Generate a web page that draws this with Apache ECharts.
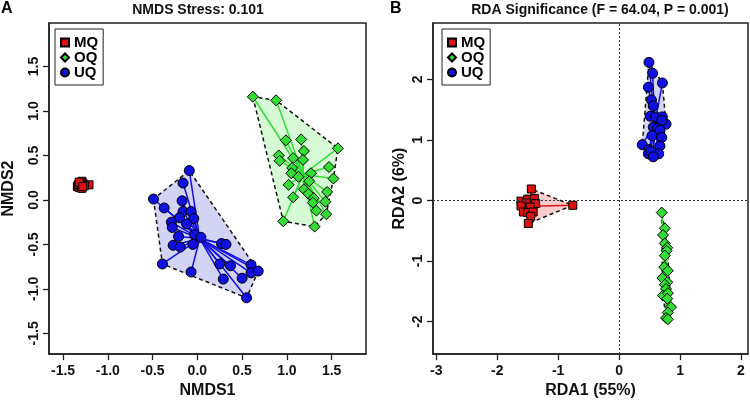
<!DOCTYPE html>
<html>
<head>
<meta charset="utf-8">
<script src="https://cdn.jsdelivr.net/npm/echarts@6/dist/echarts.min.js"></script>
<style>
  html, body { margin: 0; padding: 0; background: #fff; }
  #main { width: 750px; height: 404px; }
</style>
</head>
<body>
<div id="main"></div>
<script>
var groups = ['MQ', 'OQ', 'UQ'];

// panel A - NMDS scores
var nmdsMQ = [
  [-1.34, 0.15], [-1.32, 0.14], [-1.30, 0.17], [-1.29, 0.21], [-1.28, 0.19],
  [-1.27, 0.17], [-1.31, 0.19], [-1.33, 0.17], [-1.30, 0.15], [-1.21, 0.17],
  [-1.26, 0.16], [-1.29, 0.13], [-1.32, 0.20], [-1.28, 0.15]
];
var nmdsOQ = [
  [0.62, 1.16], [0.88, 1.12], [1.57, 0.58], [0.99, 0.67], [1.16, 0.68],
  [1.19, 0.55], [0.91, 0.50], [0.92, 0.44], [1.07, 0.47], [1.18, 0.45],
  [1.06, 0.36], [1.47, 0.37], [1.05, 0.30], [1.13, 0.26], [1.27, 0.30],
  [1.52, 0.24], [1.02, 0.17], [1.25, 0.21], [1.19, 0.12], [1.45, 0.09],
  [1.07, 0.03], [1.24, 0.07], [1.30, 0.02], [1.43, -0.02], [1.29, -0.03],
  [1.33, -0.12], [1.44, -0.16], [0.96, -0.24], [1.31, -0.30]
];
var nmdsUQ = [
  [-0.09, 0.33], [-0.16, 0.19], [-0.49, 0.01], [-0.37, -0.09], [-0.17, -0.01],
  [-0.16, -0.13], [-0.07, -0.13], [-0.20, -0.20], [-0.04, -0.21], [-0.29, -0.25],
  [-0.28, -0.31], [-0.12, -0.27], [-0.03, -0.39], [0.04, -0.42], [-0.21, -0.41],
  [-0.27, -0.51], [-0.19, -0.53], [-0.05, -0.50], [0.27, -0.49], [0.32, -0.50],
  [-0.39, -0.72], [-0.07, -0.81], [0.25, -0.72], [0.37, -0.74], [0.29, -0.89],
  [0.50, -0.88], [0.60, -0.73], [0.60, -0.82], [0.68, -0.80], [0.55, -1.10]
];

// panel B - RDA scores
var rdaMQ = [
  [-1.44, 0.19], [-1.61, -0.01], [-1.50, 0.02], [-1.39, 0.03], [-1.37, -0.05],
  [-1.53, -0.04], [-1.61, -0.09], [-1.46, -0.11], [-1.57, -0.19], [-1.50, -0.20],
  [-1.41, -0.19], [-1.45, -0.26], [-1.49, -0.38], [-0.76, -0.08]
];
var rdaOQ = [
  [0.70, -0.20], [0.75, -0.46], [0.72, -0.57], [0.75, -0.71], [0.79, -0.78],
  [0.78, -0.83], [0.75, -0.91], [0.74, -1.10], [0.80, -1.16], [0.71, -1.28],
  [0.79, -1.35], [0.75, -1.39], [0.77, -1.46], [0.72, -1.57], [0.80, -1.53],
  [0.79, -1.62], [0.85, -1.76], [0.80, -1.85], [0.77, -1.94], [0.80, -1.96]
];
var rdaUQ = [
  [0.49, 2.28], [0.55, 2.10], [0.71, 1.94], [0.48, 1.87], [0.53, 1.66],
  [0.56, 1.56], [0.51, 1.39], [0.60, 1.38], [0.71, 1.38], [0.77, 1.26],
  [0.70, 1.32], [0.56, 1.21], [0.63, 1.19], [0.67, 1.16], [0.54, 1.07],
  [0.70, 1.04], [0.38, 0.92], [0.49, 0.84], [0.67, 0.90], [0.56, 0.75],
  [0.65, 0.77], [0.48, 0.77], [0.52, 0.81], [0.56, 0.72]
];

var nmdsTicks = [-1.5, -1.0, -0.5, 0.0, 0.5, 1.0, 1.5];
var rdaXTicks = [-3, -2, -1, 0, 1, 2];
var rdaYTicks = [-2, -1, 0, 1, 2];

var colors = { MQ: '#dd1111', OQ: '#33dd33', UQ: '#1010e0' };
var fills = { MQ: 'rgba(240,110,110,0.35)', OQ: 'rgba(120,235,120,0.3)', UQ: 'rgba(110,110,225,0.3)' };
var shapes = { MQ: 'rect', OQ: 'diamond', UQ: 'circle' };
var sizes = { MQ: 8, OQ: 11, UQ: 10 };
var font = '"Liberation Sans", Arial, Helvetica, sans-serif';

// convex hull (monotone chain)
function convexHull(pts) {
  var p = pts.slice().sort(function (a, b) { return a[0] - b[0] || a[1] - b[1]; });
  function cross(o, a, b) { return (a[0] - o[0]) * (b[1] - o[1]) - (a[1] - o[1]) * (b[0] - o[0]); }
  var lower = [], upper = [];
  p.forEach(function (q) {
    while (lower.length >= 2 && cross(lower[lower.length - 2], lower[lower.length - 1], q) <= 0) lower.pop();
    lower.push(q);
  });
  for (var i = p.length - 1; i >= 0; i--) {
    var q = p[i];
    while (upper.length >= 2 && cross(upper[upper.length - 2], upper[upper.length - 1], q) <= 0) upper.pop();
    upper.push(q);
  }
  upper.pop(); lower.pop();
  return lower.concat(upper);
}

function centroid(pts) {
  var sx = 0, sy = 0;
  pts.forEach(function (p) { sx += p[0]; sy += p[1]; });
  return [sx / pts.length, sy / pts.length];
}

function panelSeries(idx, data) {
  var out = [];
  groups.forEach(function (g) {
    var pts = data[g];
    var hull = convexHull(pts);
    var cen = centroid(pts);
    out.push({
      type: 'custom', name: g + '-hull' + idx, xAxisIndex: idx, yAxisIndex: idx, z: 1,
      silent: true, data: hull,
      renderItem: function (params, api) {
        if (params.dataIndex !== 0) return;
        return {
          type: 'polygon',
          shape: { points: hull.map(function (p) { return api.coord(p); }) },
          style: { fill: fills[g], stroke: '#111', lineWidth: 1.5, lineDash: [4, 3] }
        };
      }
    });
    out.push({
      type: 'custom', name: g + '-spider' + idx, xAxisIndex: idx, yAxisIndex: idx, z: 2,
      silent: true, data: pts,
      renderItem: function (params, api) {
        var c = api.coord(cen);
        var p = api.coord([api.value(0), api.value(1)]);
        return {
          type: 'line',
          shape: { x1: c[0], y1: c[1], x2: p[0], y2: p[1] },
          style: { stroke: colors[g], lineWidth: 1.5 }
        };
      }
    });
  });
  groups.forEach(function (g) {
    out.push({
      type: 'scatter', name: g, xAxisIndex: idx, yAxisIndex: idx, z: 3,
      symbol: shapes[g], symbolSize: sizes[g], data: data[g],
      itemStyle: { color: colors[g], borderColor: '#000', borderWidth: 1, opacity: 1 }
    });
  });
  return out;
}

function valueAxis(opt) {
  return Object.assign({
    type: 'value',
    splitLine: { show: false },
    axisLine: { show: true, onZero: false, lineStyle: { color: '#222', width: 1.5 } },
    nameTextStyle: { fontFamily: font, fontWeight: 'bold', fontSize: 16, color: '#111' },
    nameLocation: 'middle'
  }, opt);
}

function ticksOf(vals, fmt) {
  return {
    tick: { show: true, inside: false, length: 6, lineStyle: { color: '#222', width: 1.3 }, customValues: vals },
    label: { fontFamily: font, fontWeight: 'bold', fontSize: 14, color: '#111', customValues: vals, formatter: fmt }
  };
}

var fmt1 = function (v) { return v.toFixed(1); };
var fmt0 = function (v) { return String(Math.round(v)); };
var ax = ticksOf(nmdsTicks, fmt1);
var bx = ticksOf(rdaXTicks, fmt0);
var by = ticksOf(rdaYTicks, fmt0);

var chart = echarts.init(document.getElementById('main'), null, { renderer: 'canvas' });

var legendBase = {
  orient: 'vertical', top: 29, itemWidth: 8, itemHeight: 8, itemGap: 0,
  padding: [6, 5, 5, 5], borderColor: '#222', borderWidth: 1, selectedMode: false,
  textStyle: { fontFamily: font, fontWeight: 'bold', fontSize: 15, color: '#000', lineHeight: 14 },
  data: groups.map(function (g) { return { name: g, icon: shapes[g] }; })
};

var series = panelSeries(0, { MQ: nmdsMQ, OQ: nmdsOQ, UQ: nmdsUQ })
  .concat(panelSeries(1, { MQ: rdaMQ, OQ: rdaOQ, UQ: rdaUQ }));

series.push({
  type: 'scatter', name: 'ref', xAxisIndex: 1, yAxisIndex: 1, z: 0, data: [],
  markLine: {
    silent: true, symbol: 'none', label: { show: false },
    lineStyle: { type: [2, 2], color: '#333', width: 1 },
    data: [{ xAxis: 0 }, { yAxis: 0 }]
  }
});

var option = {
  animation: false,
  backgroundColor: '#fff',
  grid: [
    { left: 49, top: 23, width: 317, height: 334, show: true, borderColor: '#222', borderWidth: 1.5 },
    { left: 433, top: 23, width: 315, height: 333, show: true, borderColor: '#222', borderWidth: 1.5 }
  ],
  xAxis: [
    valueAxis({ gridIndex: 0, min: -1.657, max: 1.884, name: 'NMDS1', nameGap: 26, axisTick: ax.tick, axisLabel: Object.assign({ margin: 10 }, ax.label) }),
    valueAxis({ gridIndex: 1, min: -3.054, max: 2.115, name: 'RDA1 (55%)', nameGap: 26, axisTick: bx.tick, axisLabel: Object.assign({ margin: 10 }, bx.label) })
  ],
  yAxis: [
    valueAxis({ gridIndex: 0, min: -1.733, max: 1.989, name: 'NMDS2', nameGap: 32, axisTick: ax.tick, axisLabel: Object.assign({ margin: 8, rotate: 90 }, ax.label) }),
    valueAxis({ gridIndex: 1, min: -2.536, max: 2.93, name: 'RDA2 (6%)', nameGap: 25, axisTick: by.tick, axisLabel: Object.assign({ margin: 8, rotate: 90 }, by.label) })
  ],
  legend: [
    Object.assign({}, legendBase, { left: 55 }),
    Object.assign({}, legendBase, { left: 442 })
  ],
  graphic: [
    { type: 'text', x: 1, y: 1, style: { text: 'A', font: 'bold 16px ' + font, fill: '#000' } },
    { type: 'text', x: 390, y: 1, style: { text: 'B', font: 'bold 16px ' + font, fill: '#000' } },
    { type: 'text', x: 198, y: 3, style: { text: 'NMDS Stress: 0.101', font: 'bold 14px ' + font, fill: '#111', textAlign: 'center' } },
    { type: 'text', x: 600, y: 3, style: { text: 'RDA Significance (F = 64.04, P = 0.001)', font: 'bold 14px ' + font, fill: '#111', textAlign: 'center' } }
  ],
  series: series
};

chart.setOption(option);
</script>
</body>
</html>
